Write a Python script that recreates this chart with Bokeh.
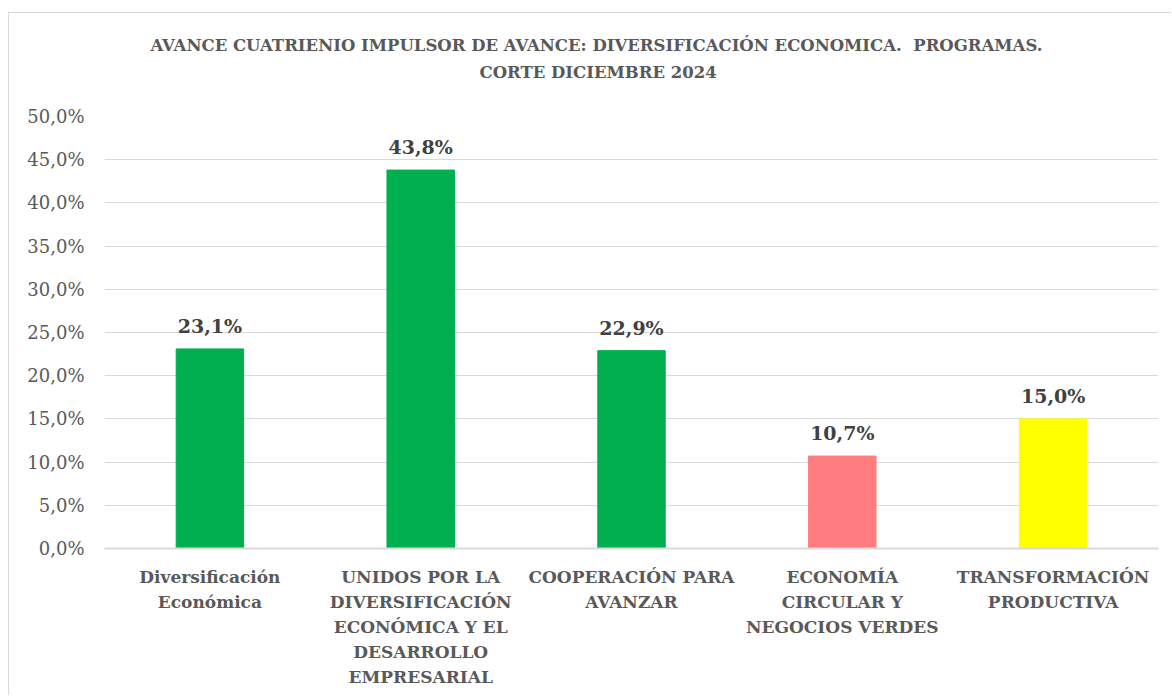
from bokeh.plotting import figure
from bokeh.models import FactorRange, Range1d, FixedTicker, ColumnDataSource, Title
from bokeh.core.properties import value
from bokeh.embed import file_html
from bokeh.resources import INLINE

categories = ["Diversificación\nEconómica",
              "UNIDOS POR LA\nDIVERSIFICACIÓN\nECONÓMICA Y EL\nDESARROLLO\nEMPRESARIAL",
              "COOPERACIÓN PARA\nAVANZAR",
              "ECONOMÍA\nCIRCULAR Y\nNEGOCIOS VERDES",
              "TRANSFORMACIÓN\nPRODUCTIVA"]
values = [23.1, 43.8, 22.9, 10.7, 15.0]
colors = ["#00B050", "#00B050", "#00B050", "#FF7C80", "#FFFF00"]
labels = ["23,1%", "43,8%", "22,9%", "10,7%", "15,0%"]
y_ticks = [0, 5, 10, 15, 20, 25, 30, 35, 40, 45, 50]
y_tick_labels = ["0,0%", "5,0%", "10,0%", "15,0%", "20,0%", "25,0%", "30,0%", "35,0%", "40,0%", "45,0%", "50,0%"]
title_lines = ["AVANCE CUATRIENIO IMPULSOR DE AVANCE: DIVERSIFICACIÓN ECONOMICA.\u00a0 PROGRAMAS.",
               "CORTE DICIEMBRE 2024"]

FONT = "DejaVu Serif"

src = ColumnDataSource(dict(x=categories, top=values, color=colors, label=labels))

p = figure(x_range=FactorRange(*categories, range_padding=0), y_range=Range1d(0, 50),
           width=1163, height=683, output_backend="svg", toolbar_location=None,
           min_border_left=95, min_border_right=14, min_border_top=103, min_border_bottom=148,
           styles={"margin-left": "8px", "margin-top": "12px",
                   "border-left": "1px solid #d9d9d9", "border-top": "1px solid #d9d9d9"})

p.vbar(x="x", top="top", width=0.32, color="color", source=src)
p.text(x="x", y="top", text="label", source=src, text_align="center", text_baseline="bottom",
       y_offset=-12, text_font=value(FONT), text_font_style="bold", text_font_size="19px",
       text_color="#404040")

# spacer between the title block and the plot frame
p.add_layout(Title(text="\u00a0", text_font_size="8px", standoff=21), "above")
title_offsets = [375, 46]
for line, off in zip(reversed(title_lines), title_offsets):
    t = Title(text=line, align="left", offset=off, text_font=FONT, text_font_style="bold",
              text_font_size="16.5px", text_color="#595959", standoff=6)
    p.add_layout(t, "above")

p.outline_line_color = None
p.xgrid.grid_line_color = None
p.ygrid.grid_line_color = "#d9d9d9"
p.ygrid.grid_line_width = 1

p.yaxis.ticker = FixedTicker(ticks=y_ticks)
p.yaxis.major_label_overrides = {t: l for t, l in zip(y_ticks, y_tick_labels)}
p.yaxis.axis_line_color = None
p.yaxis.major_tick_line_color = None
p.yaxis.minor_tick_line_color = None
p.yaxis.major_label_text_font = FONT
p.yaxis.major_label_text_font_size = "18px"
p.yaxis.major_label_text_color = "#595959"
p.yaxis.major_label_standoff = 14

p.xaxis.axis_line_color = "#d9d9d9"
p.xaxis.axis_line_width = 2
p.xaxis.major_tick_line_color = None
p.xaxis.minor_tick_line_color = None
p.xaxis.major_label_text_font = FONT
p.xaxis.major_label_text_font_style = "bold"
p.xaxis.major_label_text_font_size = "17px"
p.xaxis.major_label_text_color = "#595959"
p.xaxis.major_label_text_line_height = 1.25
p.xaxis.major_label_standoff = 12

open("out.html", "w").write(file_html(p, INLINE))
